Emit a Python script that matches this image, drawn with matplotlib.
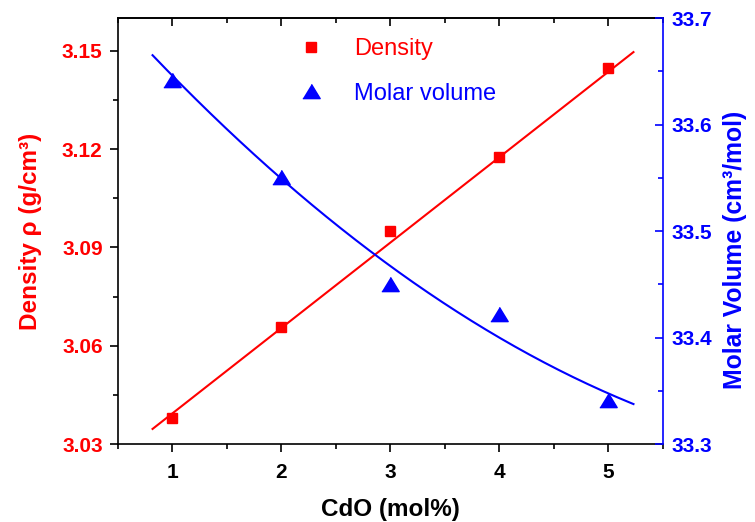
import numpy as np
import matplotlib
matplotlib.use("Agg")
import matplotlib.pyplot as plt
from matplotlib.ticker import MultipleLocator, NullFormatter
from matplotlib.lines import Line2D

plt.rcParams['font.family'] = ['Liberation Sans', 'DejaVu Sans']

# ---- data ----
cdo = [1, 2, 3, 4, 5]
density = [3.0379, 3.0657, 3.0950, 3.1176, 3.1448]
molar_volume = [33.642, 33.551, 33.450, 33.422, 33.341]
# fitted lines
density_fit_x = [0.817, 5.23]
density_fit_y = [3.0346, 3.1496]
mv_fit_x = [0.817, 2.0, 2.9, 4.0, 5.23]
mv_fit_y = [33.666, 33.548, 33.472, 33.404, 33.336]
x_ticks = [1, 2, 3, 4, 5]
density_ticks = [3.03, 3.06, 3.09, 3.12, 3.15]
mv_ticks = [33.3, 33.4, 33.5, 33.6, 33.7]

RED = '#FF0000'
BLUE = '#0000FF'

fig = plt.figure(figsize=(7.55, 5.22), dpi=100)
ax = fig.add_axes([0.1563, 0.1494, 0.7217, 0.8161])
ax2 = ax.twinx()

# fits
ax.plot(density_fit_x, density_fit_y, color=RED, lw=1.5, zorder=2)
xf = np.linspace(mv_fit_x[0], mv_fit_x[-1], 200)
pm = np.polyfit(mv_fit_x, mv_fit_y, 2)
ax2.plot(xf, np.polyval(pm, xf), color=BLUE, lw=1.5, zorder=2)

ax.plot(cdo, density, 's', color=RED, ms=7.5, mec=RED, zorder=3)
tri = [(-1, -0.82), (1, -0.82), (0, 0.82)]
ax2.plot(cdo, molar_volume, ls='none', marker=tri, color=BLUE, ms=12.5, mec=BLUE, zorder=3)

ax.set_xlim(0.5, 5.5)
ax.set_ylim(3.03, 3.16)
ax2.set_ylim(33.3, 33.7)

ax.set_xticks(x_ticks)
ax.xaxis.set_minor_locator(MultipleLocator(0.5))
ax.set_yticks(density_ticks)
ax.yaxis.set_minor_locator(MultipleLocator(0.015))
ax2.set_yticks(mv_ticks)
ax2.yaxis.set_minor_locator(MultipleLocator(0.05))

ax.tick_params(axis='x', which='both', direction='out', labelsize=15, colors='black',
               width=1.2, pad=8, top=False)
ax.tick_params(axis='x', which='major', length=6)
ax.tick_params(axis='x', which='minor', length=3.6)
ax.tick_params(axis='y', which='both', direction='out', labelsize=15, labelcolor=RED,
               color='black', width=1.2, right=False, pad=5)
ax.tick_params(axis='y', which='major', length=6)
ax.tick_params(axis='y', which='minor', length=3.6)
ax2.tick_params(axis='y', which='both', direction='in', labelsize=15, colors=BLUE,
                width=1.2, pad=6.5)
ax2.tick_params(axis='y', which='major', length=6)
ax2.tick_params(axis='y', which='minor', length=3.6)

# top ticks pointing inward
sec = ax.secondary_xaxis('top')
sec.set_xticks(x_ticks)
sec.xaxis.set_minor_locator(MultipleLocator(0.5))
sec.xaxis.set_major_formatter(NullFormatter())
sec.tick_params(axis='x', which='both', direction='in', width=1.2, colors='black')
sec.tick_params(axis='x', which='major', length=5.5)
sec.tick_params(axis='x', which='minor', length=3.6)
sec.spines['top'].set_linewidth(1.2)

ax.set_yticklabels([f'{v:.2f}' for v in density_ticks], fontweight='bold')
ax2.set_yticklabels([f'{v:.1f}' for v in mv_ticks], fontweight='bold')
ax.set_xticklabels([str(v) for v in x_ticks], fontweight='bold')

for s in ['left', 'bottom', 'top']:
    ax.spines[s].set_linewidth(1.2)
    ax.spines[s].set_color('black')
ax2.spines['right'].set_color(BLUE)
ax2.spines['right'].set_linewidth(1.2)
ax2.spines['left'].set_visible(False)
ax2.spines['top'].set_visible(False)
ax2.spines['bottom'].set_visible(False)
ax.spines['right'].set_visible(False)

ax.set_xlabel('CdO (mol%)', fontsize=17.5, fontweight='bold', labelpad=11)
ax.set_ylabel('Density ρ (g/cm³)', fontsize=17.5, fontweight='bold', color=RED)
ax.yaxis.set_label_coords(-0.139, 0.5)
ax2.set_ylabel('Molar Volume (cm³/mol)', fontsize=17.8, fontweight='bold', color=BLUE)
ax2.yaxis.set_label_coords(1.110, 0.455)

handles = [Line2D([], [], ls='none', marker='s', color=RED, ms=7.5),
           Line2D([], [], ls='none', marker=tri, color=BLUE, ms=12.5)]
leg = ax2.legend(handles, ['Density', 'Molar volume'], loc='upper left',
                 bbox_to_anchor=(0.31, 0.953), frameon=False, fontsize=17,
                 handlelength=2, handletextpad=0.85, borderpad=0, borderaxespad=0,
                 labelspacing=0.96)
for txt, c in zip(leg.get_texts(), [RED, BLUE]):
    txt.set_color(c)

fig.savefig('out.png', dpi=100)
